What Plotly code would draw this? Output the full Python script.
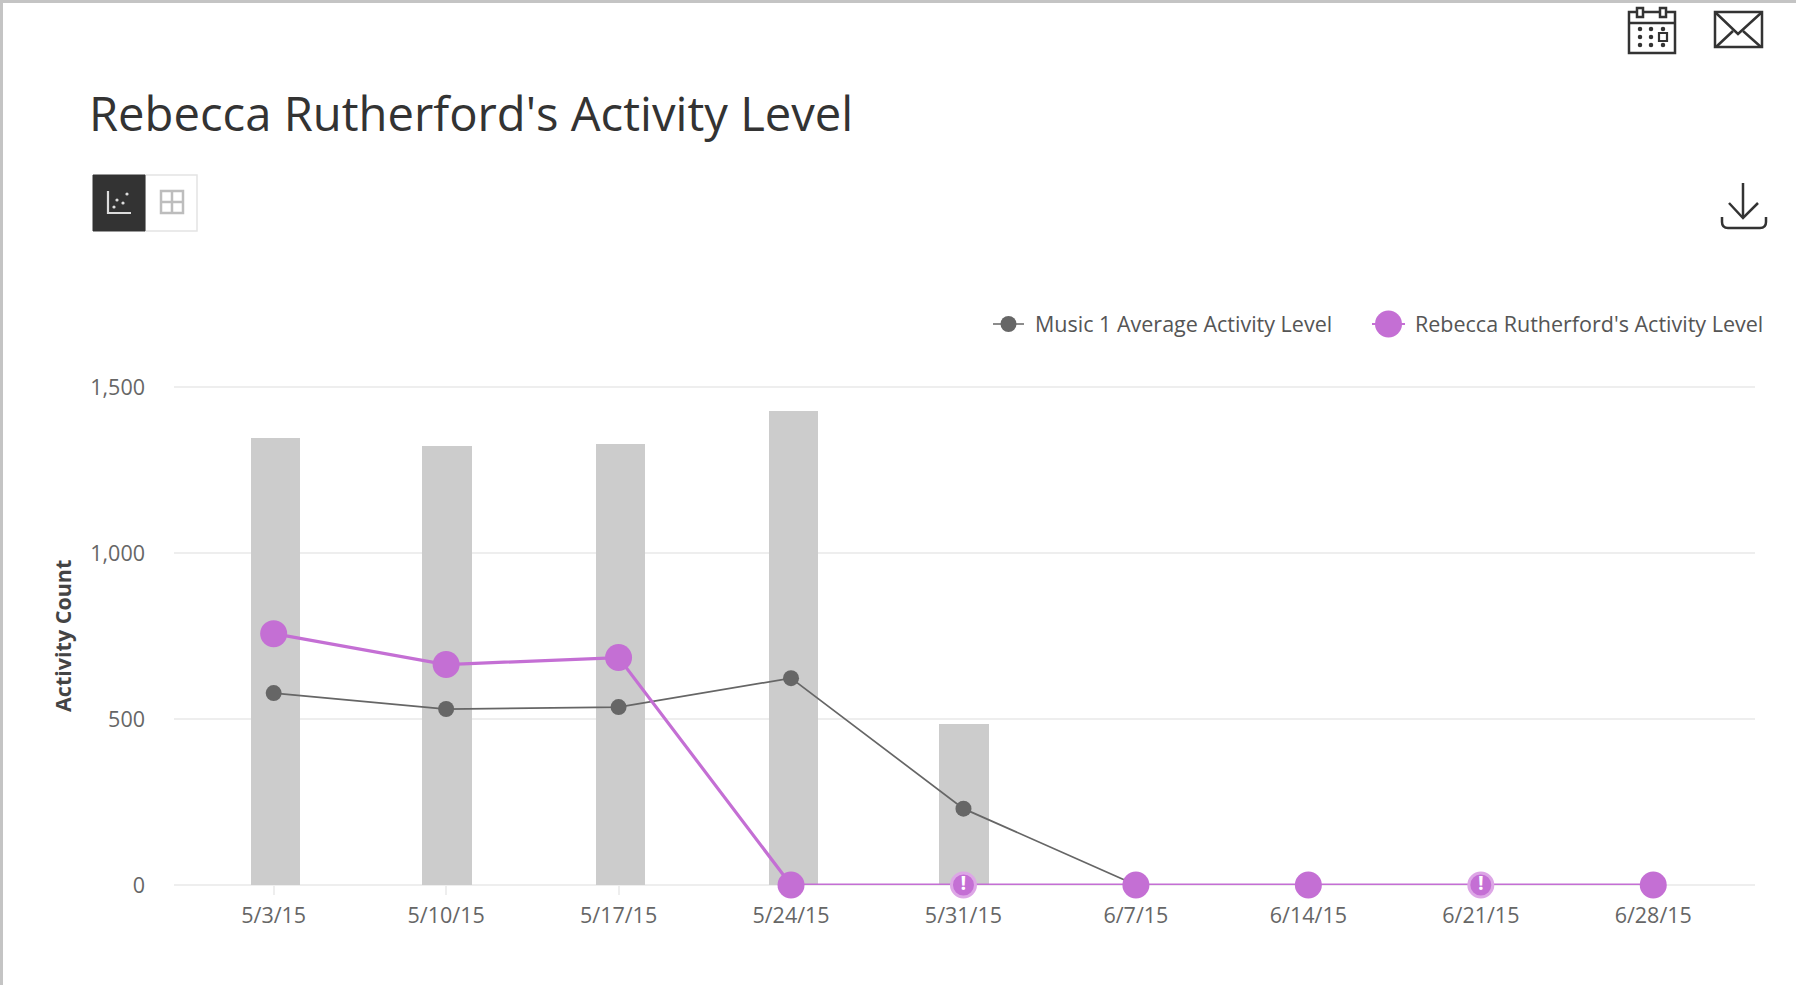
import plotly.graph_objects as go

title = "Rebecca Rutherford's Activity Level"
weeks = ["5/3/15", "5/10/15", "5/17/15", "5/24/15", "5/31/15", "6/7/15", "6/14/15", "6/21/15", "6/28/15"]
bar_values = [1345, 1321, 1328, 1428, 486, 0, 0, 0, 0]
bar_nudge = [0.013, 0.005, 0.013, 0.013, 0.003, 0, 0, 0, 0]
average_name = "Music 1 Average Activity Level"
average_values = [578, 530, 536, 623, 230, 0, 0, 0, 0]
student_name = "Rebecca Rutherford's Activity Level"
student_values = [757, 664, 685, 0, 0, 0, 0, 0, 0]
alert_flags = [0, 0, 0, 0, 1, 0, 0, 1, 0]
y_ticks = [0, 500, 1000, 1500]

PURPLE = "#c46fd4"
GREY = "#666666"
INK = "#333333"
L, R, T, B = 174, 1755, 383, 885
BAR_W = 0.285


def px(x):
    return (x - L) / (R - L)


def py(y):
    return (B - y) / (B - T)


def path(points, closed=False):
    s = "M" + " L".join(f"{px(x):.5f},{py(y):.5f}" for x, y in points)
    return s + (" Z" if closed else "")


shapes = []


def poly(points, color=INK, w=2.5, fill=None, closed=False):
    shapes.append(dict(type="path", xref="paper", yref="paper", path=path(points, closed),
                       line=dict(color=color, width=w), fillcolor=fill, layer="above"))


def box(x0, y0, x1, y1, color=INK, w=2.5, fill=None):
    poly([(x0, y0), (x1, y0), (x1, y1), (x0, y1)], color, w, fill, True)


def dot(cx, cy, d, color, w=0):
    shapes.append(dict(type="circle", xref="paper", yref="paper",
                       x0=px(cx - d / 2), x1=px(cx + d / 2), y0=py(cy + d / 2), y1=py(cy - d / 2),
                       fillcolor=color, line=dict(color=color, width=w), layer="above"))


# page frame
poly([(1.5, 985), (1.5, 1.5), (1796, 1.5)], "#c4c4c4", 3)

# calendar icon
box(1629, 12, 1675, 53)
poly([(1629, 23), (1675, 23)])
box(1637, 8, 1643, 17, INK, 2.5, "#ffffff")
box(1660, 8, 1666, 17, INK, 2.5, "#ffffff")
for cy in (29, 37, 45):
    for cx in (1640, 1651, 1663):
        if (cx, cy) != (1663, 37):
            dot(cx, cy, 4.5, INK)
box(1659, 33, 1667, 41, INK, 2.2)

# envelope icon
box(1715, 12, 1762, 47)
poly([(1716, 13), (1738, 34), (1761, 13)])
poly([(1716, 47), (1733, 31)])
poly([(1761, 47), (1743, 31)])

# download icon
poly([(1743, 183), (1743, 218)])
poly([(1729, 203), (1743, 218), (1758, 203)])
shapes.append(dict(type="path", xref="paper", yref="paper", layer="above",
                   line=dict(color=INK, width=2.5),
                   path=f"M{px(1722):.5f},{py(217):.5f} L{px(1722):.5f},{py(222):.5f} "
                        f"Q{px(1722):.5f},{py(228):.5f} {px(1728):.5f},{py(228):.5f} "
                        f"L{px(1760):.5f},{py(228):.5f} Q{px(1766):.5f},{py(228):.5f} {px(1766):.5f},{py(222):.5f} "
                        f"L{px(1766):.5f},{py(217):.5f}"))

# chart / table toggle
box(145, 175, 197, 231, "#e4e4e4", 1.5, "#ffffff")
box(93, 175, 145, 231, INK, 1, INK)
poly([(108, 191), (108, 213), (131, 213)], "#dddddd", 2.2)
for cx, cy in ((114, 207), (117, 200), (123, 203), (127, 194)):
    dot(cx, cy, 3.2, "#dddddd")
box(161, 191, 183, 213, "#bdbdbd", 2.5)
poly([(172, 191), (172, 213)], "#bdbdbd", 2.5)
poly([(161, 202), (183, 202)], "#bdbdbd", 2.5)

# legend keys
poly([(993, 324), (1024, 324)], GREY, 1.5)
dot(1008.5, 324, 16, GREY)
poly([(1372, 324), (1405, 324)], PURPLE, 2)
dot(1388.5, 324, 27, PURPLE)

annotations = [
    dict(text=title, x=px(88), y=py(113), xanchor="left", yanchor="middle",
         font=dict(size=47.2, color=INK, family="Open Sans")),
    dict(text=average_name, x=px(1034), y=py(323), xanchor="left", yanchor="middle",
         font=dict(size=21.5, color="#555555", family="Open Sans")),
    dict(text=student_name, x=px(1414), y=py(323), xanchor="left", yanchor="middle",
         font=dict(size=21.5, color="#555555", family="Open Sans")),
    dict(text="<b>Activity Count</b>", x=px(62), y=py(636), xanchor="center", yanchor="middle",
         textangle=-90, font=dict(size=21.5, color="#444444", family="Open Sans")),
]
for a in annotations:
    a.update(xref="paper", yref="paper", showarrow=False, borderpad=0)

fig = go.Figure()
fig.add_bar(x=weeks, y=bar_values, width=BAR_W, offset=[n - BAR_W / 2 for n in bar_nudge],
            marker=dict(color="#cccccc", line_width=0),
            name="Total Activity", showlegend=False, hoverinfo="skip")
fig.add_scatter(x=weeks, y=average_values, mode="lines+markers", name=average_name, showlegend=False,
                line=dict(color=GREY, width=1.7), marker=dict(color=GREY, size=16), cliponaxis=False)
fig.add_scatter(x=weeks, y=student_values, mode="lines+markers+text", name=student_name, showlegend=False,
                line=dict(color=PURPLE, width=3.2),
                marker=dict(color=PURPLE, opacity=1, size=[24 if f else 27 for f in alert_flags],
                            line=dict(color=["#dda6e6" if f else PURPLE for f in alert_flags],
                                      width=[3 if f else 0 for f in alert_flags])),
                text=["<b>!</b>" if f else "" for f in alert_flags], textposition="middle center",
                textfont=dict(color="#ffffff", size=20, family="Open Sans"), cliponaxis=False)

fig.update_layout(
    width=1796, height=985, autosize=False,
    margin=dict(l=L, r=1796 - R, t=T, b=985 - B, pad=0),
    paper_bgcolor="#ffffff", plot_bgcolor="#ffffff",
    font=dict(family="Open Sans", color="#666666", size=20),
    showlegend=False, shapes=shapes, annotations=annotations, bargap=0,
)
fig.update_xaxes(type="category", categoryorder="array", categoryarray=weeks,
                 range=[-0.578, 8.59], showgrid=False, zeroline=False, showline=False, layer="below traces",
                 ticks="outside", ticklen=9, tickwidth=1.5, tickcolor="#eeeeee",
                 tickfont=dict(size=21.5, color="#666666"), ticklabelstandoff=2)
fig.update_yaxes(range=[0, 1512], tickvals=y_ticks, tickformat=",", showgrid=True, gridcolor="#eeeeee",
                 gridwidth=1.5, zeroline=True, zerolinecolor="#eeeeee", zerolinewidth=1.5, showline=False,
                 layer="below traces", ticks="", tickfont=dict(size=21.5, color="#666666"), ticklabelstandoff=28)

fig.write_html("out.html", config=dict(displayModeBar=False),
               post_script="document.body.style.margin='0';document.body.style.overflow='hidden';")
